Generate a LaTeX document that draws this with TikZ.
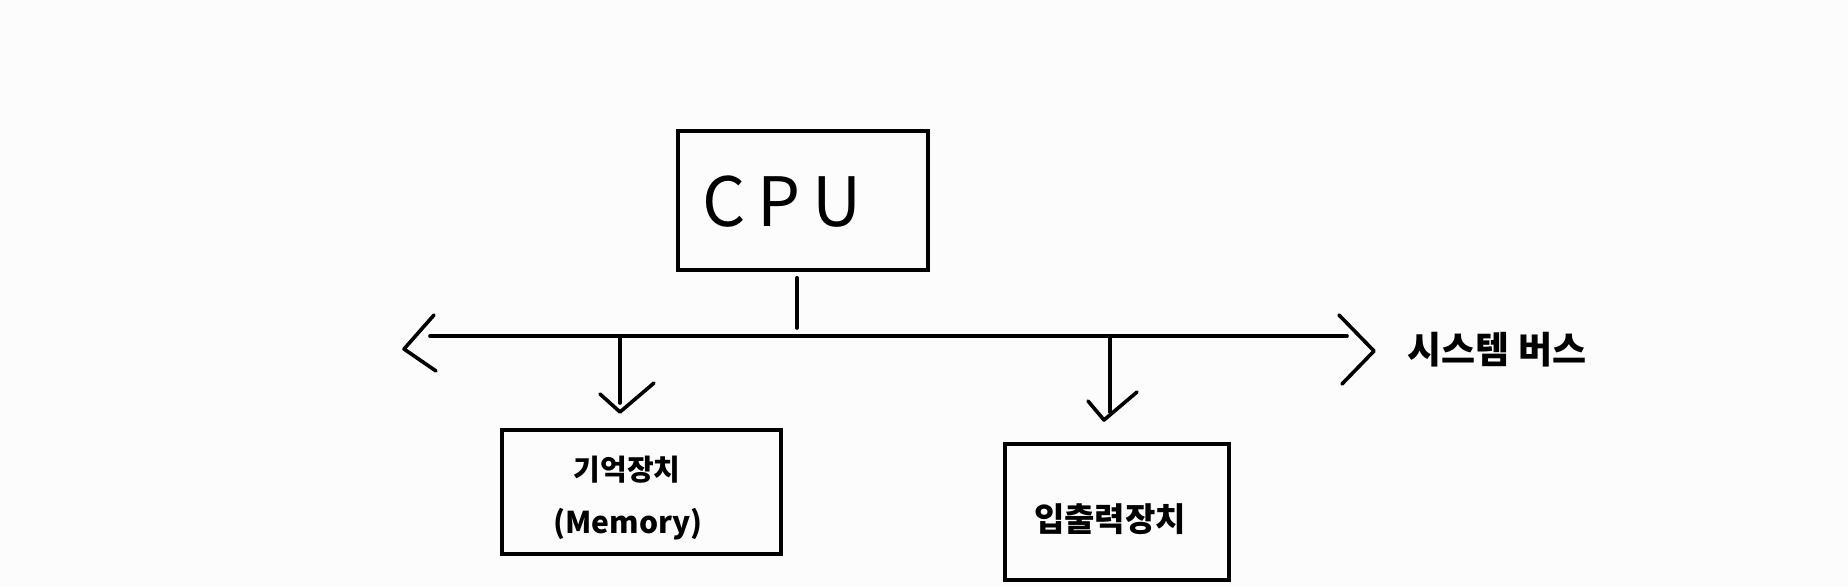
\documentclass[tikz,border=0pt]{standalone}
\usepackage{fontspec}
\setmainfont{Noto Sans CJK KR}
\newfontfamily\kr{Noto Sans CJK KR}
\definecolor{bgc}{RGB}{252,252,252}
\begin{document}
\begin{tikzpicture}[x=1pt,y=-1pt,
  box/.style={draw=black,line width=3.6pt,minimum width=#1,inner sep=0pt},
  ln/.style={line width=3.6pt,line cap=round,line join=round},
  lbl/.style={font=\kr,inner sep=0pt}]
\fill[bgc] (0,0) rectangle (1848,587);
\useasboundingbox (0,0) rectangle (1848,587);
% boxes
\node[box=250pt,minimum height=139pt] (cpu) at (803,200.5) {};
\node[box=279pt,minimum height=124pt] (mem) at (641.5,492) {};
\node[box=224pt,minimum height=136pt] (io) at (1117,512) {};
% texts
\node[lbl,font=\kr\fontsize{68}{70}\selectfont] (cputxt) at (782,202) {C\,P\,U};
\node[lbl,font=\kr\bfseries\fontsize{29}{31}\selectfont] (memtxt1) at (627,470) {기억장치};
\node[lbl,font=\kr\bfseries\fontsize{30}{31}\selectfont] (memtxt2) at (628,524) {(Memory)};
\node[lbl,font=\kr\bfseries\fontsize{33}{34}\selectfont] (iotxt) at (1110,519) {입출력장치};
\node[lbl,font=\kr\bfseries\fontsize{37}{38}\selectfont] (bustxt) at (1497,350) {시스템 버스};
% bus
\coordinate (busL) at (430,336);
\coordinate (busR) at (1347,336);
\draw[ln] (busL) -- (busR);
\coordinate (lTip) at (404,349);
\coordinate (lA) at (434,315);
\coordinate (lB) at (436,371);
\draw[ln] (lA) -- (lTip) -- (lB);
\coordinate (rTip) at (1374,351);
\coordinate (rA) at (1339,315);
\coordinate (rB) at (1342,384);
\draw[ln] (rA) -- (rTip) -- (rB);
% CPU to bus
\coordinate (cpuBus) at (797,328);
\draw[ln] ([xshift=-6pt,yshift=-6pt]cpu.south) -- (cpuBus);
% bus to memory
\coordinate (memBus) at (620,336);
\coordinate (memEnd) at (620,403);
\coordinate (memTip) at (620,412);
\coordinate (memA) at (600,394);
\coordinate (memB) at (654,383);
\draw[ln] (memBus) -- (memEnd);
\draw[ln] (memA) -- (memTip) -- (memB);
% bus to IO
\coordinate (ioBus) at (1110,336);
\coordinate (ioEnd) at (1110,412);
\coordinate (ioTip) at (1104,420);
\coordinate (ioA) at (1088,401);
\coordinate (ioB) at (1137,392);
\draw[ln] (ioBus) -- (ioEnd);
\draw[ln] (ioA) -- (ioTip) -- (ioB);
\end{tikzpicture}
\end{document}
